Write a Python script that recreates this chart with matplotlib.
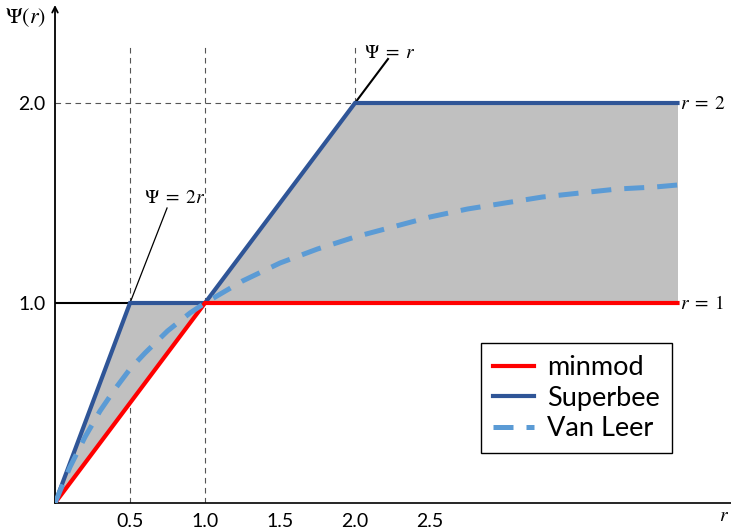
import matplotlib.pyplot as plt
import numpy as np

# limiter curves
r_minmod = [0.0, 1.0, 4.15]
psi_minmod = [0.0, 1.0, 1.0]

r_superbee = [0.0, 0.5, 1.0, 2.0, 4.15]
psi_superbee = [0.0, 1.0, 1.0, 2.0, 2.0]

r_vanleer = [0.0, 0.1, 0.2, 0.3, 0.4, 0.5, 0.6, 0.75, 0.9, 1.0, 1.25, 1.5, 1.75,
             2.0, 2.25, 2.5, 2.75, 3.0, 3.25, 3.5, 3.75, 4.0, 4.15]
psi_vanleer = [0.0, 0.18, 0.33, 0.46, 0.57, 0.67, 0.75, 0.86, 0.95, 1.0, 1.11, 1.2, 1.27,
               1.33, 1.38, 1.43, 1.47, 1.5, 1.53, 1.55, 1.57, 1.58, 1.59]

xticks = [0.5, 1.0, 1.5, 2.0, 2.5]
yticks = [1.0, 2.0]

plt.rcParams['font.family'] = ['Lato', 'DejaVu Sans']
plt.rcParams['mathtext.fontset'] = 'stix'

fig = plt.figure(figsize=(7.31, 5.32), dpi=100)
ax = fig.add_axes([55/731, 29/532, 676/731, 498/532])
ax.set_xlim(0, 676/150)
ax.set_ylim(0, 498/200)

# shaded TVD region between minmod and superbee
r_fill = np.array(r_superbee)
ax.fill_between(r_fill, np.interp(r_fill, r_minmod, psi_minmod), psi_superbee,
                color='#c0c0c0', lw=0, zorder=1)

# guide lines
gcol = '#555555'
ax.plot([0.5, 0.5], [0, 2.29], color=gcol, lw=0.8, dashes=(5, 4), zorder=0.5)
ax.plot([1.0, 1.0], [0, 2.29], color=gcol, lw=0.8, dashes=(5, 4), zorder=0.5)
ax.plot([2.0, 2.0], [2.0, 2.29], color=gcol, lw=0.8, dashes=(5, 4), zorder=0.5)
ax.plot([0, 2.0], [2.0, 2.0], color=gcol, lw=0.8, dashes=(5, 4), zorder=0.5)
ax.plot([0, 0.5], [1.0, 1.0], color='black', lw=1.5, zorder=2)
ax.plot([2.0, 2.22], [2.0, 2.22], color='black', lw=1.5, zorder=2)
ax.plot([0.5, 0.747], [1.0, 1.475], color='black', lw=0.9, zorder=2)

ax.plot(r_superbee, psi_superbee, color='#2f5597', lw=3, label='Superbee',
        solid_joinstyle='miter', zorder=3)
ax.plot(r_minmod, psi_minmod, color='#ff0000', lw=3, label='minmod',
        solid_joinstyle='miter', zorder=4)
ax.plot(r_vanleer, psi_vanleer, color='#5b9bd5', lw=3.6, dashes=(4, 2.6),
        label='Van Leer', zorder=5)

ax.text(0.80, 1.53, r'$\Psi\;=\;2r$', fontsize=14, ha='center', va='center')
ax.text(2.23, 2.255, r'$\Psi\;=\;r$', fontsize=14, ha='center', va='center')
ax.text(4.165, 2.0, r'$r\;=\;2$', fontsize=14, ha='left', va='center')
ax.text(4.165, 1.0, r'$r\;=\;1$', fontsize=14, ha='left', va='center')

# axes
for s in ['top', 'right']:
    ax.spines[s].set_visible(False)
ax.spines['left'].set_visible(False)
ax.spines['bottom'].set_linewidth(1.2)
ax.annotate('', xy=(0, 1.0), xycoords='axes fraction', xytext=(0, 0),
            arrowprops=dict(arrowstyle='->', lw=1.3, color='black',
                            shrinkA=0, shrinkB=0))
ax.text(-0.043, 0.975, r'$\Psi(r)$', transform=ax.transAxes, fontsize=16,
        ha='center', va='center')
ax.text(0.99, -0.025, r'$r$', transform=ax.transAxes, fontsize=14,
        ha='center', va='center')

ax.set_xticks(xticks)
ax.set_xticklabels([f'{v:.1f}' for v in xticks], fontsize=14)
ax.set_yticks(yticks)
ax.set_yticklabels([f'{v:.1f}' for v in yticks], fontsize=14)
ax.tick_params(length=0, pad=7)

h, l = ax.get_legend_handles_labels()
order = [1, 0, 2]
leg = ax.legend([h[i] for i in order], [l[i] for i in order],
                loc='upper right', bbox_to_anchor=(0.913, 0.321),
                borderaxespad=0, fontsize=19.5, fancybox=False, framealpha=1,
                edgecolor='black', handlelength=1.5, handletextpad=0.5,
                borderpad=0.45, labelspacing=0.2)
leg.get_frame().set_linewidth(1.0)

fig.savefig('out.png', dpi=100)
